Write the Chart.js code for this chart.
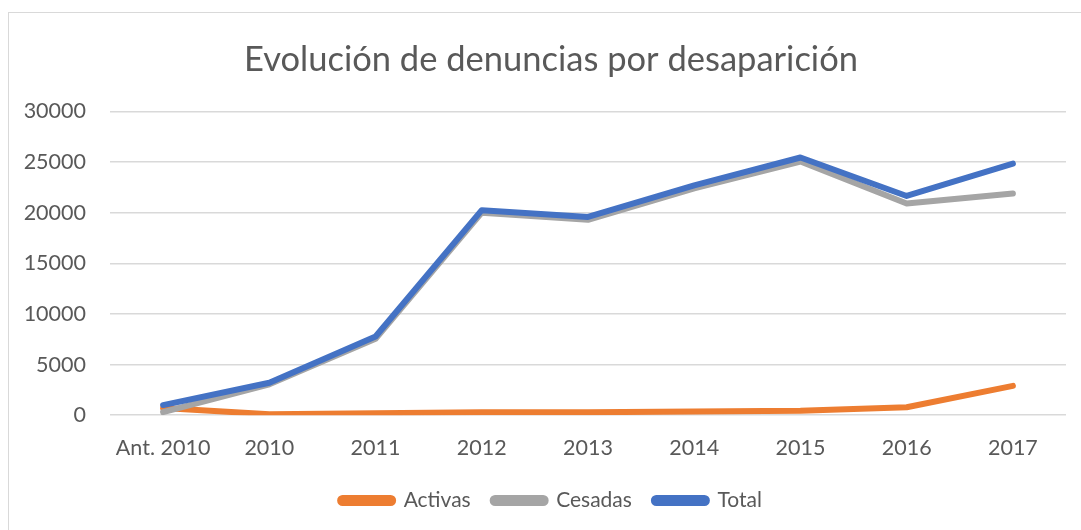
<!DOCTYPE html>
<html>
<head>
<meta charset="utf-8">
<script src="https://cdn.jsdelivr.net/npm/chart.js@4.4.1/dist/chart.umd.min.js"></script>
<style>
  html, body { margin: 0; padding: 0; background: #fff; overflow: hidden; }
  .frame { position: absolute; left: 8px; top: 12px; width: 1100px; height: 560px; border: 1px solid #d9d9d9; }
  .wrap { position: absolute; left: 0; top: 0; width: 1081px; height: 530px; }
</style>
</head>
<body>
<div class="frame"></div>
<div class="wrap"><canvas id="myChart" width="1081" height="530"></canvas></div>
<script>
const years = ['Ant. 2010', '2010', '2011', '2012', '2013', '2014', '2015', '2016', '2017'];
const activas = [700, 100, 200, 280, 300, 370, 430, 780, 2900];
const cesadas = [300, 3050, 7550, 20000, 19300, 22400, 25050, 20900, 21900];
const total = [1000, 3200, 7770, 20250, 19580, 22700, 25450, 21650, 24850];

const textColor = '#595959';
const fontName = 'Lato, "Open Sans", sans-serif';

const ctx = document.getElementById('myChart');

const lineStyle = (color) => ({
    borderColor: color,
    backgroundColor: color,
    borderWidth: 6,
    borderCapStyle: 'round',
    borderJoinStyle: 'round',
    pointRadius: 0,
    pointHoverRadius: 0,
    fill: false,
    tension: 0
});

// the title and legend are centred on the frame, not on the canvas
const centreOnFrame = {
    id: 'centreOnFrame',
    afterLayout(chart) {
        [chart.titleBlock, chart.legend].forEach((box) => {
            if (box) box.left += 36;
        });
    }
};

new Chart(ctx, {
    type: 'line',
    data: {
        labels: years,
        datasets: [
            { label: 'Activas', data: activas, order: 3, ...lineStyle('#ED7D31') },
            { label: 'Cesadas', data: cesadas, order: 2, ...lineStyle('#A5A5A5') },
            { label: 'Total', data: total, order: 1, ...lineStyle('#4472C4') }
        ]
    },
    plugins: [centreOnFrame],
    options: {
        responsive: false,
        animation: false,
        devicePixelRatio: 1,
        layout: { padding: { left: 0, right: 15, top: 0, bottom: 9 } },
        plugins: {
            title: {
                display: true,
                text: 'Evolución de denuncias por desaparición',
                color: textColor,
                font: { family: fontName, size: 34.5, weight: 'normal' },
                padding: { top: 39, bottom: 31 }
            },
            legend: {
                position: 'bottom',
                labels: {
                    color: textColor,
                    font: { family: fontName, size: 21 },
                    boxWidth: 53,
                    boxHeight: 5,
                    padding: 22,
                    useBorderRadius: true,
                    borderRadius: 2.5,
                    sort: (a, b) => a.datasetIndex - b.datasetIndex
                }
            },
            tooltip: { enabled: false }
        },
        scales: {
            x: {
                offset: true,
                grid: { display: false, drawTicks: false },
                border: { display: false },
                ticks: {
                    color: textColor,
                    font: { family: fontName, size: 21.5 },
                    padding: 20,
                    maxRotation: 0
                },
                afterFit: (scale) => { scale.height = scale.height - 13; }
            },
            y: {
                min: 0,
                max: 30000,
                grid: { color: '#d9d9d9', lineWidth: 1.5, drawTicks: false },
                border: { display: false },
                ticks: {
                    stepSize: 5000,
                    color: textColor,
                    font: { family: fontName, size: 21.5 },
                    padding: 24,
                    callback: (v) => String(v)
                },
                afterFit: (scale) => { scale.width = 110; }
            }
        }
    }
});
</script>
</body>
</html>
